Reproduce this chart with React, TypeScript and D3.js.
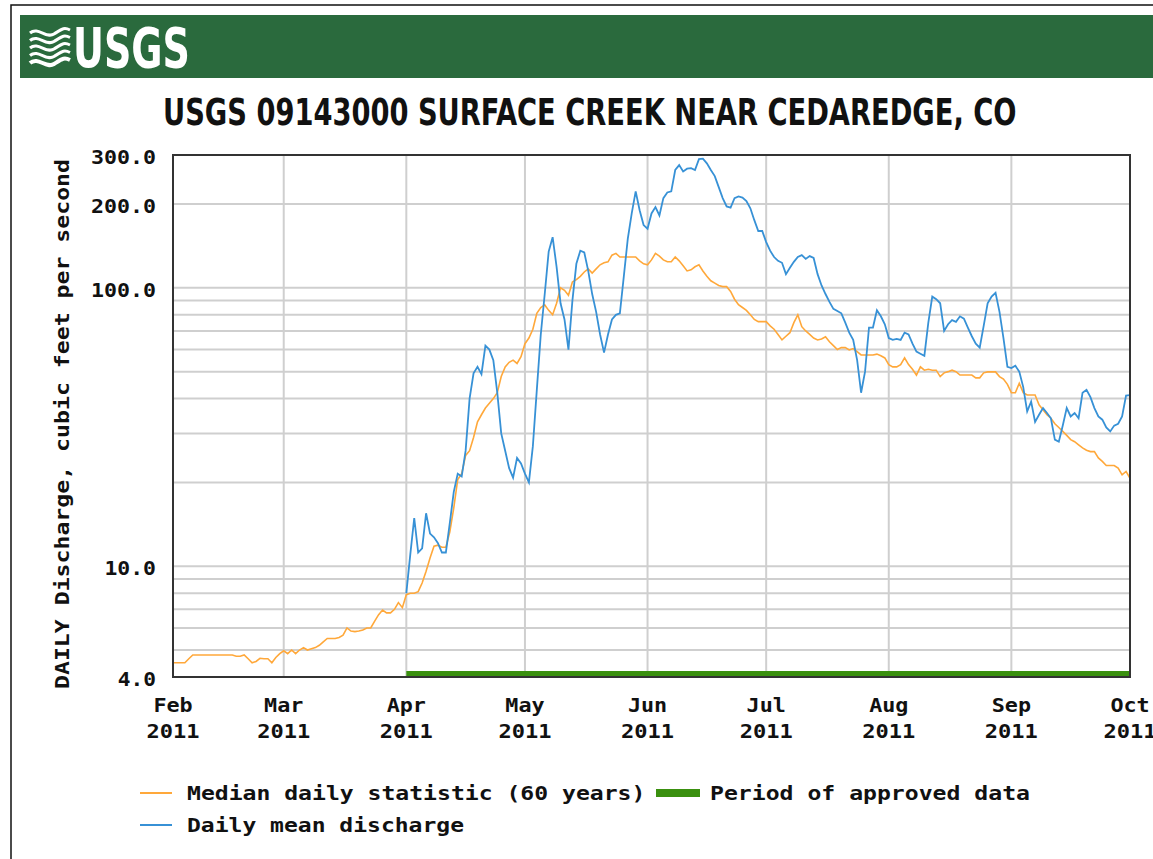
import React, { useEffect, useRef } from 'react'
import * as d3 from 'd3'

const title = 'USGS 09143000 SURFACE CREEK NEAR CEDAREDGE, CO'
const yAxisTitle = 'DAILY Discharge, cubic feet per second'

const monthTicks = ['2011-02-01', '2011-03-01', '2011-04-01', '2011-05-01', '2011-06-01', '2011-07-01', '2011-08-01', '2011-09-01', '2011-10-01']
const yTickValues = [4, 10, 100, 200, 300]
const yGridValues = [5, 6, 7, 8, 9, 10, 20, 30, 40, 50, 60, 70, 80, 90, 100, 200]

// median daily statistic, one value per day from Feb 1
const medianStart = '2011-02-01'
const medianValues = [
  // Feb
  4.5, 4.5, 4.5, 4.5, 4.65, 4.8, 4.8, 4.8, 4.8, 4.8, 4.8, 4.8, 4.8, 4.8, 4.8, 4.8, 4.75, 4.75, 4.8, 4.65,
  4.5, 4.55, 4.67, 4.65, 4.65, 4.5, 4.7, 4.85,
  // Mar
  4.97, 4.85, 5.0, 4.85, 5.0, 5.1, 5.0, 5.05, 5.1, 5.2, 5.35, 5.5, 5.5, 5.5, 5.55, 5.65, 6.0, 5.85, 5.82, 5.85,
  5.9, 6.0, 6.0, 6.35, 6.7, 6.96, 6.8, 6.8, 7.0, 7.4, 7.1,
  // Apr
  7.9, 8.0, 8.0, 8.1, 8.7, 9.6, 10.7, 11.8, 11.9, 11.7, 11.7, 13.3, 16.2, 20.5, 21.5, 25, 26, 29, 33, 35,
  37, 38.5, 40, 42, 48, 52, 54, 55, 53.5, 56.6,
  // May
  63, 66, 71, 81, 85, 86.8, 83, 80, 88, 100, 98, 94, 105, 107, 110, 114, 117, 113, 117, 121,
  123, 124, 131, 133, 129, 129, 129, 129, 129, 125, 122,
  // Jun
  121, 126, 133, 130, 126, 124, 124, 129, 125, 120, 115, 116, 119, 121, 115, 110, 106, 104, 102, 101,
  101, 97, 91, 87, 85, 83, 80, 77, 75.6, 75.6,
  // Jul
  75.6, 73, 71, 68, 65, 67, 69, 75, 80, 72.5, 70, 68, 66, 65, 65.5, 66.7, 64, 62, 60, 61,
  61, 59.8, 60.5, 59, 57.4, 57.4, 57.4, 57.4, 57.8, 57, 56,
  // Aug
  53, 52, 52, 53, 56, 53, 51, 48.6, 52, 50.6, 51, 50.6, 50.6, 48, 49.5, 50, 50.6, 50, 48.6, 48.6,
  48.6, 48.6, 47.5, 47.5, 49.5, 49.9, 49.9, 49.9, 48, 47, 45,
  // Sep
  42, 42, 45.4, 42, 41.2, 41.2, 41.2, 38, 36.5, 35, 34, 32.5, 31.5, 30.5, 29.5, 28.5, 28, 27.3, 26.6, 26.1,
  25.8, 25.8, 24.5, 23.8, 23, 23, 23, 22.5, 21.3, 21.9,
  // Oct 1
  20.7
]

// daily mean discharge, one value per day from Apr 1
const dischargeStart = '2011-04-01'
const dischargeValues = [
  // Apr
  8.0, 11.0, 14.9, 11.2, 11.6, 15.5, 13.1, 12.7, 12.1, 11.2, 11.2, 14.3, 18.5, 21.5, 21, 26, 40, 49.3, 52, 49,
  62, 60, 55, 42, 30, 26, 22.5, 20.8, 24.5, 23.4,
  // May
  21.5, 20, 27, 43, 68, 95, 135, 152, 119, 88, 77, 60, 90, 122, 136, 134, 115, 95, 82, 68,
  58.5, 68, 77, 80, 81, 110, 150, 185, 222, 190, 168,
  // Jun
  163, 185, 195, 182, 210, 220, 222, 265, 276, 262, 268, 269, 265, 290, 291, 280, 265, 252, 230, 210,
  196, 194, 210, 213, 211, 205, 193, 175, 160, 160,
  // Jul
  146, 136, 129, 125, 123, 112, 118, 124, 129, 131, 127, 130, 128, 112, 102, 95, 89, 84, 82.5, 81,
  75, 69, 65, 55, 42, 50, 72, 72, 83, 79, 74,
  // Aug
  66, 65, 65.5, 65, 69, 68, 63, 59, 58, 57, 75, 93, 91, 88, 70, 74, 76.6, 75.5, 79, 77.5,
  72, 67, 63, 61, 73, 88, 93, 96, 82, 66, 52,
  // Sep
  51.5, 52.5, 50, 44, 36, 39, 33, 35, 37, 35.5, 34, 28.5, 28, 32, 37, 34.5, 35.5, 34, 42, 43,
  40.5, 37, 34.5, 33.6, 31.5, 30.5, 32, 32.5, 34.5, 41,
  // Oct 1
  41.2
]

const approvedPeriod = ['2011-04-01', '2011-10-01']

const medianColor = '#ffa83a'
const dischargeColor = '#3791d6'
const approvedColor = '#3a900f'
const headerGreen = '#2a6a3d'

const monoFont = "'DejaVu Sans Mono', 'Liberation Mono', monospace"
const narrowFont = "'Liberation Sans Narrow', 'DejaVu Sans Condensed', 'Liberation Sans', sans-serif"

const parse = d3.timeParse('%Y-%m-%d')

const App = () => {
  const svgRef = useRef(null)
  const width = 1153
  const height = 859
  const plot = { left: 173, right: 1130, top: 155, bottom: 677 }

  useEffect(() => {
    const svg = d3.select(svgRef.current)
    svg.selectAll('*').remove()

    const x = d3.scaleTime()
      .domain([parse(monthTicks[0]), parse(monthTicks[monthTicks.length - 1])])
      .range([plot.left, plot.right])
    const y = d3.scaleLog().domain([4, 300]).range([plot.bottom, plot.top])

    // fixed-pitch text helper (the original uses a bitmap font)
    const mono = (g, str, px, py, pitch, anchor = 'start') =>
      g.append('text')
        .text(str)
        .attr('x', px)
        .attr('y', py)
        .attr('text-anchor', anchor)
        .attr('dominant-baseline', 'central')
        .attr('font-family', monoFont)
        .attr('font-weight', 'bold')
        .attr('font-size', 20)
        .attr('fill', '#111')
        .attr('textLength', str.length * pitch - 2)
        .attr('lengthAdjust', 'spacingAndGlyphs')

    // text squeezed horizontally to a target width (keeps its box honest)
    const fitted = (g, str, px, py, size, targetWidth, fill) => {
      const holder = g.append('g')
      const t = holder.append('text')
        .text(str)
        .attr('font-family', narrowFont)
        .attr('font-weight', 'bold')
        .attr('font-size', size)
        .attr('fill', fill)
      const natural = t.node().getComputedTextLength() || targetWidth
      holder.attr('transform', `translate(${px},${py}) scale(${targetWidth / natural},1)`)
      return t
    }

    svg.append('rect')
      .attr('width', width).attr('height', height).attr('fill', 'white')

    // outer frame
    svg.append('rect')
      .attr('x', 11).attr('y', 5)
      .attr('width', width + 20).attr('height', height + 20)
      .attr('fill', 'none').attr('stroke', '#111').attr('stroke-width', 1.5)

    // header banner
    const header = svg.append('g')
    header.append('rect')
      .attr('x', 20).attr('y', 15)
      .attr('width', width).attr('height', 63)
      .attr('fill', headerGreen)

    const waves = header.append('g')
      .attr('fill', 'none').attr('stroke', 'white').attr('stroke-linecap', 'butt')
    d3.range(5).forEach(i => {
      const y0 = 33 + i * 7.5
      waves.append('path')
        .attr('d', `M30,${y0} C38,${y0 - 7} 46,${y0 + 6} 54,${y0 + 1} S64,${y0 - 6} 70,${y0 - 3}`)
        .attr('stroke-width', i === 4 ? 4 : 3)
    })

    fitted(header, 'USGS', 73, 67, 56, 117, 'white')

    fitted(svg, title, 163, 125, 37, 854, '#111')

    // grid
    const grid = svg.append('g').attr('stroke', '#cfcfcf').attr('stroke-width', 2)
    grid.selectAll('line.h')
      .data(yGridValues)
      .join('line')
        .attr('class', 'h')
        .attr('x1', plot.left).attr('x2', plot.right)
        .attr('y1', d => y(d)).attr('y2', d => y(d))
    grid.selectAll('line.v')
      .data(monthTicks.slice(1, -1))
      .join('line')
        .attr('class', 'v')
        .attr('x1', d => x(parse(d))).attr('x2', d => x(parse(d)))
        .attr('y1', plot.top).attr('y2', plot.bottom)

    // approved data bar
    svg.append('rect')
      .attr('x', x(parse(approvedPeriod[0])))
      .attr('width', x(parse(approvedPeriod[1])) - x(parse(approvedPeriod[0])))
      .attr('y', plot.bottom - 6)
      .attr('height', 6)
      .attr('fill', approvedColor)

    const toSeries = (start, values) =>
      values.map((v, i) => ({ date: d3.timeDay.offset(parse(start), i), value: v }))

    const line = d3.line()
      .x(d => x(d.date))
      .y(d => y(d.value))

    svg.append('path')
      .attr('d', line(toSeries(medianStart, medianValues)))
      .attr('fill', 'none')
      .attr('stroke', medianColor)
      .attr('stroke-width', 1.6)

    svg.append('path')
      .attr('d', line(toSeries(dischargeStart, dischargeValues)))
      .attr('fill', 'none')
      .attr('stroke', dischargeColor)
      .attr('stroke-width', 1.8)

    // plot border
    svg.append('rect')
      .attr('x', plot.left).attr('y', plot.top)
      .attr('width', plot.right - plot.left).attr('height', plot.bottom - plot.top)
      .attr('fill', 'none').attr('stroke', '#333').attr('stroke-width', 2)

    // y tick labels
    const yLabels = svg.append('g')
    yTickValues.forEach(v => mono(yLabels, d3.format('.1f')(v), 156, y(v) + 2, 13.4, 'end'))

    // x tick labels
    const xLabels = svg.append('g')
    monthTicks.forEach(d => {
      const date = parse(d)
      mono(xLabels, d3.timeFormat('%b')(date), x(date), 705, 13.75, 'middle')
      mono(xLabels, d3.timeFormat('%Y')(date), x(date), 731, 13.75, 'middle')
    })

    // y axis title
    const yt = svg.append('g').attr('transform', 'translate(62,424) rotate(-90)')
    mono(yt, yAxisTitle, 0, 0, 14, 'middle')

    // legend
    const legend = svg.append('g')
    legend.append('line')
      .attr('x1', 140).attr('x2', 172).attr('y1', 793).attr('y2', 793)
      .attr('stroke', medianColor).attr('stroke-width', 2)
    mono(legend, 'Median daily statistic (60 years)', 187, 793, 13.95)
    legend.append('rect')
      .attr('x', 656).attr('y', 789).attr('width', 44).attr('height', 8)
      .attr('fill', approvedColor)
    mono(legend, 'Period of approved data', 710, 793, 14)
    legend.append('line')
      .attr('x1', 140).attr('x2', 172).attr('y1', 825).attr('y2', 825)
      .attr('stroke', dischargeColor).attr('stroke-width', 2)
    mono(legend, 'Daily mean discharge', 187, 825, 13.95)
  }, [])

  return (
    <div style={{ width: width, height: height }}>
      <style>{'body { margin: 0; }'}</style>
      <svg ref={svgRef} width={width} height={height}></svg>
    </div>
  )
}

export default App
